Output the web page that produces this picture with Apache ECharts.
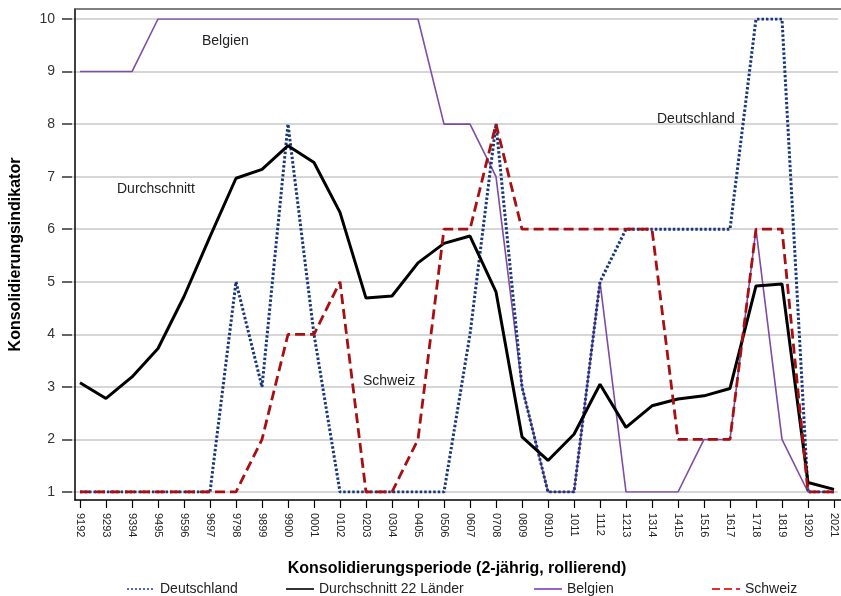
<!DOCTYPE html>
<html>
<head>
<meta charset="utf-8">
<script src="https://cdn.jsdelivr.net/npm/echarts@6/dist/echarts.min.js"></script>
<style>html,body{margin:0;padding:0;background:#fff}#c{width:841px;height:596px}</style>
</head>
<body>
<div id="c"></div>
<script>
const categories = ['9192','9293','9394','9495','9596','9697','9798','9899','9900','0001','0102','0203','0304','0405','0506','0607','0708','0809','0910','1011','1112','1213','1314','1415','1516','1617','1718','1819','1920','2021'];
const deutschland = [1,1,1,1,1,1,5,3,8,4,1,1,1,1,1,4,8,3,1,1,5,6,6,6,6,6,10,10,1,1];
const durchschnitt = [3.08,2.78,3.19,3.73,4.72,5.86,6.97,7.14,7.59,7.27,6.32,4.69,4.73,5.36,5.73,5.87,4.81,2.05,1.60,2.10,3.05,2.23,2.64,2.77,2.83,2.97,4.92,4.96,1.18,1.05];
const belgien = [9,9,9,10,10,10,10,10,10,10,10,10,10,10,8,8,7,3,1,1,5,1,1,1,2,2,6,2,1,1];
const schweiz = [1,1,1,1,1,1,1,2,4,4,5,1,1,2,6,6,8,6,6,6,6,6,6,2,2,2,6,6,1,1];
const yTicks = {min: 1, max: 10, interval: 1};

const narrow = "'Liberation Sans Narrow', 'Arial Narrow', 'Liberation Sans', sans-serif";
const sans = "'Liberation Sans', Arial, sans-serif";

const chart = echarts.init(document.getElementById('c'), null, {renderer: 'canvas'});
const hidden = {show: false};
const legendBase = {top: 577, itemWidth: 28, itemHeight: 10,
  itemStyle: {color: 'transparent', borderWidth: 0, opacity: 0},
  textStyle: {fontFamily: narrow, fontSize: 14, color: '#222'}};
chart.setOption({
  animation: false,
  backgroundColor: '#fff',
  grid: [
    {left: 72, right: 0, top: 9, bottom: 96},
    {left: 72, right: 3, top: 19, bottom: 104},
    {left: 80, right: 7, top: 19, bottom: 104}
  ],
  xAxis: [
    {gridIndex: 0, type: 'value', min: 0, max: 1, position: 'bottom',
     axisLine: {show: true, lineStyle: {color: '#000', width: 1.5}}, axisTick: hidden, axisLabel: hidden, splitLine: hidden},
    {gridIndex: 0, type: 'value', min: 0, max: 1, position: 'top',
     axisLine: {show: true, lineStyle: {color: '#555', width: 1.5}}, axisTick: hidden, axisLabel: hidden, splitLine: hidden},
    {gridIndex: 1, type: 'value', min: 0, max: 1, show: false},
    {gridIndex: 2, type: 'category', data: categories, boundaryGap: false, position: 'bottom', offset: 8,
     axisLine: hidden,
     axisTick: {show: true, length: 8, interval: 0, lineStyle: {color: '#000', width: 1.2}},
     axisLabel: {interval: 0, rotate: -90, fontSize: 11, color: '#222', fontFamily: sans, margin: 13},
     splitLine: hidden,
     name: 'Konsolidierungsperiode (2-jährig, rollierend)', nameLocation: 'middle', nameGap: 61,
     nameTextStyle: {fontFamily: narrow, fontWeight: 'bold', fontSize: 16, color: '#000'}}
  ],
  yAxis: [
    {gridIndex: 0, type: 'value', min: 0, max: 1, position: 'left',
     axisLine: {show: true, lineStyle: {color: '#000', width: 1.5}}, axisTick: hidden, axisLabel: hidden, splitLine: hidden,
     name: 'Konsolidierungsindikator', nameLocation: 'middle', nameRotate: 90, nameGap: 51,
     nameTextStyle: {fontFamily: narrow, fontWeight: 'bold', fontSize: 16, color: '#000'}},
    {gridIndex: 1, type: 'value', min: yTicks.min, max: yTicks.max, interval: yTicks.interval, position: 'left',
     axisLine: hidden,
     axisTick: {show: true, length: 10, lineStyle: {color: '#333', width: 1.5}},
     axisLabel: {fontSize: 14, color: '#333', fontFamily: sans, margin: 17},
     splitLine: {show: true, lineStyle: {color: '#c8c8c8', width: 1.5}}},
    {gridIndex: 2, type: 'value', min: yTicks.min, max: yTicks.max, show: false}
  ],
  legend: [
    Object.assign({data: ['Deutschland'], left: 121,
      lineStyle: {color: '#4a6cc0', width: 2, type: [2, 2]}}, legendBase),
    Object.assign({data: ['Durchschnitt 22 Länder'], left: 280,
      lineStyle: {color: '#333', width: 2}}, legendBase),
    Object.assign({data: ['Belgien'], left: 528,
      lineStyle: {color: '#9a62c4', width: 2}}, legendBase),
    Object.assign({data: ['Schweiz'], left: 706,
      lineStyle: {color: '#e03030', width: 2, type: [8, 4]}}, legendBase)
  ],
  graphic: [
    {type: 'text', left: 202, top: 34, style: {text: 'Belgien', font: '14px ' + sans, fill: '#222'}},
    {type: 'text', left: 117, top: 182, style: {text: 'Durchschnitt', font: '14px ' + sans, fill: '#222'}},
    {type: 'text', left: 363, top: 374, style: {text: 'Schweiz', font: '14px ' + sans, fill: '#222'}},
    {type: 'text', left: 657, top: 112, style: {text: 'Deutschland', font: '14px ' + sans, fill: '#222'}}
  ],
  series: [
    {name: 'Deutschland', type: 'line', xAxisIndex: 3, yAxisIndex: 2, data: deutschland, symbol: 'none',
     lineStyle: {color: '#1a377c', width: 3, type: [2.5, 2]}, z: 3},
    {name: 'Durchschnitt 22 Länder', type: 'line', xAxisIndex: 3, yAxisIndex: 2, data: durchschnitt, symbol: 'none',
     lineStyle: {color: '#000', width: 3}, z: 4},
    {name: 'Belgien', type: 'line', xAxisIndex: 3, yAxisIndex: 2, data: belgien, symbol: 'none',
     lineStyle: {color: '#7f4ca3', width: 1.6}, z: 2},
    {name: 'Schweiz', type: 'line', xAxisIndex: 3, yAxisIndex: 2, data: schweiz, symbol: 'none',
     lineStyle: {color: '#a80f12', width: 2.8, type: [10, 5]}, z: 5}
  ]
});
</script>
</body>
</html>
